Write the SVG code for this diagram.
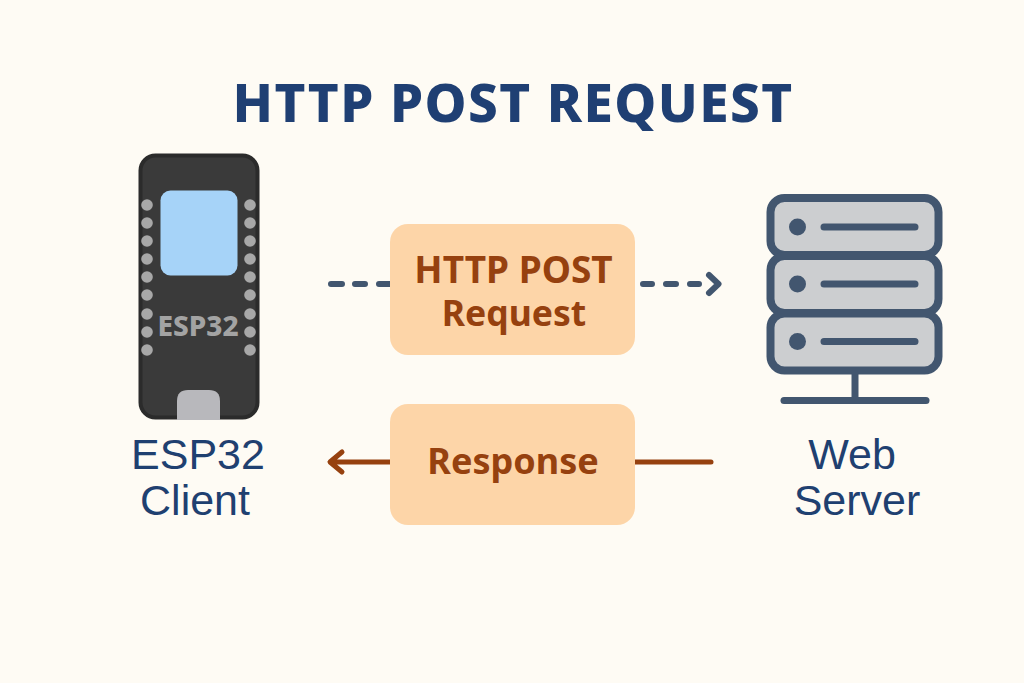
<svg xmlns="http://www.w3.org/2000/svg" width="1024" height="683" viewBox="0 0 1024 683">
<style>
.title{font:800 53px "Noto Sans","Open Sans",sans-serif;fill:#1f3f73;letter-spacing:1.4px}
.lbl{font:400 43px "Liberation Sans",Arial,sans-serif;fill:#1f4070}
.box{fill:#fdd5a8}
.bt{font:700 37px "Noto Sans","Open Sans",sans-serif;fill:#96410f}
.pin{fill:#a8a8a8}
.srv{fill:#ccced0;stroke:#42566f;stroke-width:8}
.dot{fill:#42566f}
.bar{stroke:#42566f;stroke-width:7;stroke-linecap:round;fill:none}
.dash{stroke:#42566f;stroke-width:6;stroke-linecap:round;stroke-linejoin:round;fill:none}
.resp{stroke:#96410f;stroke-width:5;stroke-linecap:round;stroke-linejoin:round;fill:none}
</style>
<rect width="1024" height="683" fill="#fefbf4"/>
<text class="title" x="513" y="122" text-anchor="middle">HTTP POST REQUEST</text>
<g id="connectors">
<path class="dash" d="M331 284H342M355 284H365M379 284H390M643 284H652M666 284H676M690 284H699"/>
<path class="dash" d="M709 275L718.500 284L709 293"/>
<path class="resp" d="M390 462H332M342 452L330 462L342 472"/>
<path class="resp" d="M635 462H711"/>
</g>
<g id="esp32">
<rect x="140.500" y="155.500" width="117" height="262" rx="15" fill="#3a3a3a" stroke="#2b2b2b" stroke-width="4"/>
<rect x="160.500" y="190.500" width="77" height="85" rx="10" fill="#a6d3f8"/>
<g class="pin">
<circle cx="147" cy="205" r="5.800"/><circle cx="147" cy="223" r="5.800"/><circle cx="147" cy="241" r="5.800"/><circle cx="147" cy="259" r="5.800"/><circle cx="147" cy="277" r="5.800"/><circle cx="147" cy="295" r="5.800"/><circle cx="147" cy="314" r="5.800"/><circle cx="147" cy="332" r="5.800"/><circle cx="147" cy="350" r="5.800"/>
<circle cx="250" cy="205" r="5.800"/><circle cx="250" cy="223" r="5.800"/><circle cx="250" cy="241" r="5.800"/><circle cx="250" cy="259" r="5.800"/><circle cx="250" cy="277" r="5.800"/><circle cx="250" cy="295" r="5.800"/><circle cx="250" cy="314" r="5.800"/><circle cx="250" cy="332" r="5.800"/><circle cx="250" cy="350" r="5.800"/>
</g>
<text x="198" y="336" text-anchor="middle" font-family="Noto Sans,Open Sans,sans-serif" font-weight="800" font-size="28" fill="#a3a3a3">ESP32</text>
<path d="M177 420V401Q177 390 188 390H209Q220 390 220 401V420Z" fill="#b8b8bc"/>
</g>
<g id="client-label">
<text class="lbl" text-anchor="middle"><tspan x="198" y="469">ESP32</tspan><tspan x="195" y="515">Client</tspan></text>
</g>
<g id="request-box">
<rect class="box" x="390" y="224" width="245" height="131" rx="18"/>
<text class="bt" text-anchor="middle"><tspan x="513.500" y="283">HTTP POST</tspan><tspan x="514" y="326" style="font-size:35.500px">Request</tspan></text>
</g>
<g id="response-box">
<rect class="box" x="390" y="404" width="245" height="121" rx="18"/>
<text class="bt" x="513" y="474" text-anchor="middle" style="font-size:36px">Response</text>
</g>
<g id="server">
<rect class="srv" x="770.500" y="198" width="168" height="57" rx="14"/>
<rect class="srv" x="770.500" y="256" width="168" height="57" rx="14"/>
<rect class="srv" x="770.500" y="313.500" width="168" height="57" rx="14"/>
<circle class="dot" cx="797.500" cy="227" r="8.500"/><circle class="dot" cx="797.500" cy="284" r="8.500"/><circle class="dot" cx="797.500" cy="341.500" r="8.500"/>
<path class="bar" d="M824 227H915M824 284H915M824 341.500H915"/>
<path d="M855 372V400" stroke="#42566f" stroke-width="7" fill="none"/>
<path class="bar" d="M784 400.500H926"/>
</g>
<g id="server-label">
<text class="lbl" text-anchor="middle"><tspan x="852" y="469">Web</tspan><tspan x="857" y="515">Server</tspan></text>
</g>
</svg>
